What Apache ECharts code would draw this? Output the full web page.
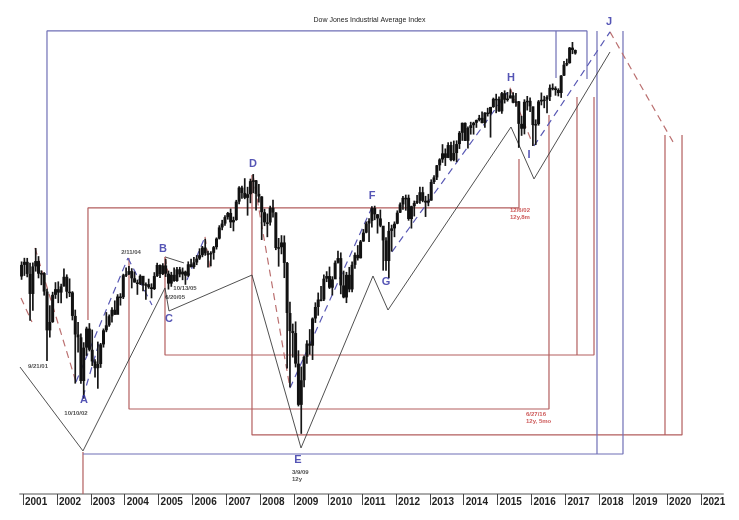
<!DOCTYPE html>
<html><head><meta charset="utf-8">
<script src="https://cdn.jsdelivr.net/npm/echarts@6/dist/echarts.min.js"></script>
<style>html,body{margin:0;padding:0;background:#fff}#c{width:739px;height:520px}</style>
</head><body><div id="c"></div>
<script>
// ---- Price data: monthly DJIA bars starting Dec 2000 ----
const priceStartYear = 2000, priceStartMonth = 12, firstOpen = 10415;
const monthHigh = [10899,
11019,11016,10858,10863,11350,11075,10610,10551,10033,9545,9943,10236,
10260,10185,10673,10480,10353,9960,9420,9078,8765,8535,8946,9043,
8869,8110,8552,8516,8898,9350,9284,9486,9686,9870,9900,10500,
10702,10753,10678,10570,10315,10480,10360,10230,10345,10200,10550,10855,
10800,10840,10984,10600,10560,10700,10720,10720,10700,10600,10900,10990,
11050,11110,11340,11420,11670,11260,11240,11420,11720,12160,12360,12530,
12660,12790,12480,13130,13680,13700,14020,13660,14000,14198,13950,13780,
13280,12780,12600,12900,13140,12650,11700,11800,11790,10880,9650,9030,
9090,8330,7930,8200,8590,8880,9200,9630,9920,10120,10480,10580,
10730,10420,10930,11260,11200,10600,10560,10720,10900,11200,11450,11630,
12020,12300,12420,12880,12900,12580,12750,12130,11730,12280,12180,12300,
12720,13030,13290,13340,13340,12900,13100,13330,13660,13660,13290,13370,
13970,14150,14590,14890,15540,15340,15630,15660,15710,15720,16170,16590,
16590,16400,16630,16630,16740,16980,17150,17120,17350,17400,17890,18100,
17950,18200,18290,18200,18350,18180,18140,17710,16930,17800,17980,17900,
17400,16750,17760,18170,17990,18020,18620,18670,18510,18400,19150,19990,
20130,20850,21170,20690];
const monthLow = [10311,
10434,10390,9106,9390,10570,10357,10145,9830,8062,8659,9052,9733,
9608,9605,10100,9747,9788,9120,7532,8275,7528,7197,8190,8303,
7945,7673,7416,7900,8400,8800,8946,9064,9275,9360,9538,9730,
10400,10459,10048,10225,9853,10150,9962,9708,10034,9750,10000,10400,
10368,10460,10400,10012,10095,10250,10250,10390,10300,10156,10400,10700,
10660,10780,10950,11040,11090,10700,10740,10960,11300,11650,11980,12140,
12370,12060,11940,12330,12960,13180,13160,12520,13000,13400,12720,13030,
11630,12130,11730,12150,12450,11280,10730,11140,10365,7882,7450,8150,
7910,7030,6470,7450,8000,8220,8090,9050,9250,9660,9670,10240,
10030,9835,10360,10830,9870,9750,9610,9930,9930,10660,10930,11000,
11570,11870,11560,12080,12350,11860,12090,10600,10600,10360,11230,11730,
12200,12620,12740,12710,12330,12040,12490,12970,12980,13040,12470,12880,
13100,13780,13940,14340,14690,14550,14900,14760,14760,14720,15320,15700,
15690,15340,16000,16000,16330,16650,16560,16330,16900,15855,17350,17070,
17140,17040,17580,17680,17900,17590,17400,15370,15940,16010,17210,17130,
15450,15500,16440,17480,17330,17060,17710,18290,18000,17960,17880,19100,
19680,19830,20410,20380];
const monthClose = [10787,
10887,10495,9879,10735,10912,10502,10523,9950,8848,9075,9852,10022,
9920,10106,10404,9946,9925,9243,8737,8664,7592,8397,8896,8342,
8054,7891,7992,8480,8850,8985,9234,9416,9275,9801,9782,10454,
10488,10584,10358,10226,10188,10435,10140,10174,10080,10027,10428,10783,
10490,10766,10504,10193,10467,10275,10641,10482,10569,10440,10806,10718,
10865,10993,11109,11367,11168,11150,11186,11381,11679,12081,12222,12463,
12622,12269,12354,13063,13628,13409,13212,13358,13896,13930,13372,13265,
12650,12266,12263,12820,12638,11350,11378,11544,10851,9325,8829,8776,
8001,7063,7609,8168,8500,8447,9172,9496,9712,9713,10345,10428,
10067,10325,10857,11009,10137,9774,10466,10015,10788,11118,11006,11578,
11892,12226,12320,12811,12570,12414,12143,11614,10913,11955,12046,12218,
12633,12952,13212,13214,12393,12880,13009,13091,13437,13096,13026,13104,
13861,14054,14579,14840,15116,14910,15500,14810,15130,15546,16086,16577,
15699,16322,16458,16581,16717,16827,16563,17098,17043,17391,17828,17823,
17165,18133,17776,17841,18011,17620,17690,16528,16285,17664,17720,17425,
16466,16517,17685,17774,17787,17930,18432,18401,18308,18142,19124,19763,
19864,20812,20663,20450];

// ---- Axis ticks ----
const yearTicks = [2001,2002,2003,2004,2005,2006,2007,2008,2009,2010,2011,2012,2013,2014,2015,2016,2017,2018,2019,2020,2021];
const xMin = 2000.912, xMax = 2021.649;   // decimal years
const yMin = 5393, yMax = 22628;           // index level (log scale)

// ---- Overlay lines in [decimal year, index level] ----
const blueSolid = [
  [[2001.708,10460],[2001.708,21890],[2017.637,21890],[2017.637,18930]],
  [[2016.723,18990],[2016.723,21890]],
  [[2017.932,21890],[2017.932,6087]],
  [[2002.770,6087],[2018.699,6087],[2018.699,21890]]
];
const redSolid = [
  [[2002.917,9130],[2002.917,12816],[2015.631,12816],[2015.631,14860]],
  [[2004.127,11015],[2004.127,6975],[2016.516,6975],[2016.516,16980]],
  [[2005.189,11050],[2005.189,8212],[2017.844,8212],[2017.844,17930]],
  [[2017.342,17930],[2017.342,8212]],
  [[2007.755,14160],[2007.755,6448],[2020.440,6448],[2020.440,15980]],
  [[2019.938,15980],[2019.938,6448]],
  [[2002.770,6124],[2002.770,5393]]
];
const blackZigzag = [
  [[2000.912,7919],[2002.770,6144],[2005.189,10060],[2005.307,9382],[2007.755,10460],
   [2009.201,6199],[2011.324,10430],[2011.767,9410],[2015.395,16370],[2016.074,13990],[2018.316,20540]],
  [[2005.189,11050],[2005.749,10850]]
];
const redDashed = [
  [[2000.941,9758],[2001.265,9075]],
  [[2001.354,11355],[2002.563,7568]],
  [[2005.189,11050],[2005.336,10211]],
  [[2006.369,11740],[2006.516,10686]],
  [[2007.785,14160],[2008.876,7431]],
  [[2015.366,18430],[2016.044,15510]],
  [[2018.316,21830],[2020.174,15650]]
];
const blueDashed = [
  [[2002.563,7568],[2004.097,11015]],
  [[2002.770,7233],[2003.271,8597]],
  [[2004.097,11015],[2004.805,9554]],
  [[2005.838,10306],[2006.369,11740]],
  [[2008.876,7431],[2011.324,12930]],
  [[2011.885,11220],[2015.277,18150]],
  [[2016.074,15460],[2018.316,21830]]
];

// ---- Labels ----
const waveLabels = [
  ['A',2002.799,7169],['B',2005.130,11320],['C',2005.307,9157],['D',2007.785,14640],
  ['E',2009.112,5977],['F',2011.295,13290],['G',2011.708,10242],['H',2015.395,18990],
  ['I',2015.926,15040],['J',2018.286,22494]
];
const dateLabels = [
  ['9/21/01',2001.442,7943],['10/10/02',2002.563,6891],['2/11/04',2004.186,11220],
  ['10/13/05',2005.779,10060],['6/20/05',2005.484,9789]
];
const leftNotes = [
  ['3/9/09\n12y',2008.935,5695,'#222'],
  ['12/6/02\n12y,8m',2015.366,12585,'#c03030'],
  ['6/27/16\n12y, 5mo',2015.838,6787,'#c03030']
];

// ---- build ----
const priceData = monthClose.map((c,i)=>{
  const mIdx = (priceStartMonth-1) + i;
  const x = priceStartYear + (mIdx + 0.5)/12;
  const o = i===0 ? firstOpen : monthClose[i-1];
  return [x, o, c, monthLow[i], monthHigh[i]];
});

const series = [];
function addLines(list, color, type, width, z){
  list.forEach(pts=>series.push({type:'line', data:pts, symbol:'none', silent:true, z:z,
    lineStyle:{color:color, width:width, type:type, dashOffset:0}, animation:false}));
}
addLines(redSolid,'#b35e5e','solid',1.2,3);
addLines(blueSolid,'#6f6fb6','solid',1.2,3);
addLines(blackZigzag,'#3c3c3c','solid',0.9,4);
addLines(redDashed,'#bb7070',[7,5],1.2,4);
addLines(blueDashed,'#5a5ab5',[7,5],1.2,4);

series.push({
  type:'custom', data:priceData, z:5, silent:true, animation:false,
  encode:{x:0, y:[1,2,3,4]},
  renderItem:function(params, api){
    const x=api.value(0), o=api.value(1), c=api.value(2), l=api.value(3), h=api.value(4);
    const pl=api.coord([x,l]), ph=api.coord([x,h]), po=api.coord([x,o]), pc=api.coord([x,c]);
    const top=Math.min(po[1],pc[1]), ht=Math.max(1.5,Math.abs(po[1]-pc[1]));
    return {type:'group', children:[
      {type:'line', shape:{x1:pl[0],y1:pl[1],x2:ph[0],y2:ph[1]}, style:{stroke:'#161616', lineWidth:1.7}},
      {type:'rect', shape:{x:pl[0]-1.5, y:top, width:3.0, height:ht}, style:{fill:'#111'}}
    ]};
  }
});

series.push({
  type:'scatter', symbolSize:0, silent:true, z:6, animation:false,
  data: waveLabels.map(d=>({name:d[0], value:[d[1],d[2]]})),
  label:{show:true, position:'inside', formatter:'{b}', color:'#2a2aa2',
    fontFamily:'Liberation Sans, Arial, sans-serif', fontWeight:'bold', fontSize:11}
});
series.push({
  type:'scatter', symbolSize:0, silent:true, z:6, animation:false,
  data: dateLabels.map(d=>({name:d[0], value:[d[1],d[2]]})),
  label:{show:true, position:'inside', formatter:'{b}', color:'#222',
    fontFamily:'Liberation Sans Narrow, Arial Narrow, sans-serif', fontWeight:'bold', fontSize:6}
});
leftNotes.forEach(d=>series.push({
  type:'scatter', symbolSize:0, silent:true, z:6, animation:false,
  data:[{name:d[0], value:[d[1],d[2]]}],
  label:{show:true, position:[0,0], align:'left', verticalAlign:'middle', formatter:'{b}', color:d[3],
    lineHeight:7, fontFamily:'Liberation Sans Narrow, Arial Narrow, sans-serif', fontWeight:'bold', fontSize:6}
}));

const chart = echarts.init(document.getElementById('c'), null, {renderer:'canvas'});
chart.setOption({
  animation:false,
  backgroundColor:'#fff',
  title:{text:'Dow Jones Industrial Average Index', left:'center', top:12,
    textStyle:{fontSize:7, fontWeight:'normal', color:'#222', fontFamily:'Liberation Sans Narrow, Arial Narrow, sans-serif'}},
  grid:{left:20, right:16, top:20, bottom:26, containLabel:false},
  xAxis:{type:'value', min:xMin, max:xMax,
    axisLine:{show:true, onZero:false, lineStyle:{color:'#aaa', width:2}},
    axisTick:{show:true, customValues:yearTicks, length:11, lineStyle:{color:'#444', width:1}},
    axisLabel:{show:true, customValues:yearTicks, formatter:v=>String(Math.round(v)), align:'left',
      margin:3, padding:[0,0,0,2], color:'#222', fontWeight:'bold', fontSize:10,
      fontFamily:'Liberation Sans Narrow, Arial Narrow, sans-serif'},
    splitLine:{show:false}},
  yAxis:{type:'log', logBase:10, min:yMin, max:yMax, show:false,
    axisLine:{show:false}, axisTick:{show:false}, axisLabel:{show:false}, splitLine:{show:false}},
  series:series
});
</script>
</body></html>
